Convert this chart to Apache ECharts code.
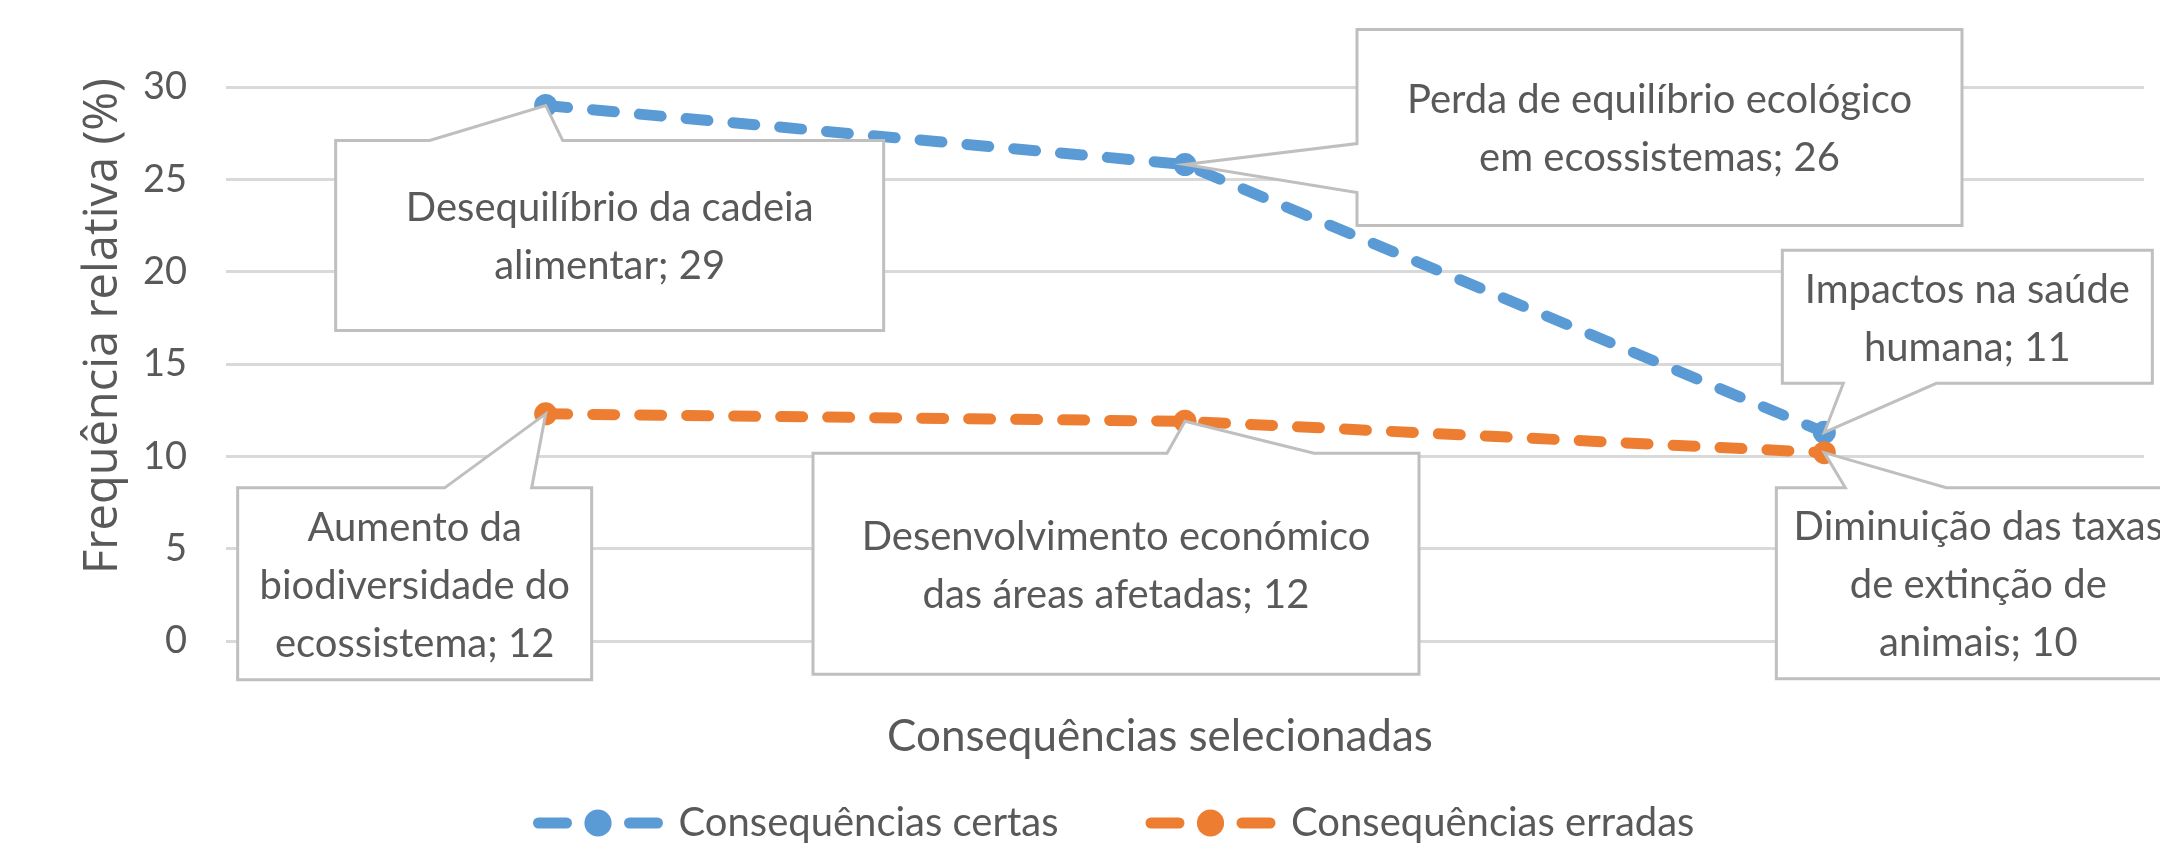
<!DOCTYPE html>
<html>
<head>
<meta charset="utf-8">
<script src="https://cdn.jsdelivr.net/npm/echarts@6/dist/echarts.min.js"></script>
<style>
html,body{margin:0;padding:0;background:#fff;}
#chart{width:2160px;height:847px;}
</style>
</head>
<body>
<div id="chart"></div>
<script>
// ---- data ----
const categories = ['1', '2', '3'];
const seriesNames = ['Consequências certas', 'Consequências erradas'];
const certasValues = [29, 25.8, 11.3];
const erradasValues = [12.3, 11.9, 10.2];
const certasNames = ['Desequilíbrio da cadeia\nalimentar', 'Perda de equilíbrio ecológico\nem ecossistemas', 'Impactos na saúde\nhumana'];
const erradasNames = ['Aumento da\nbiodiversidade do\necossistema', 'Desenvolvimento económico\ndas áreas afetadas', 'Diminuição das taxas\nde extinção de\nanimais'];
const yTicks = [0, 5, 10, 15, 20, 25, 30];
const xTitle = 'Consequências selecionadas';
const yTitle = 'Frequência relativa (%)';

// ---- layout (callout boxes relative to their point, in px) ----
const certasLayout = [
  {side:'top', dx:-210, dy:35, w:548, h:190, a:-116, b:17},
  {side:'left', dx:172, dy:-135, w:605, h:196, a:-21, b:28},
  {side:'bottom', dx:-42, dy:-182, w:370, h:133, a:19, b:112}
];
const erradasLayout = [
  {side:'top', dx:-308, dy:74, w:354, h:192, a:-101, b:-14},
  {side:'top', dx:-372, dy:32, w:606, h:221, a:-18, b:129},
  {side:'top', dx:-48, dy:35, w:404, h:191, a:21, b:122}
];

const TXT = '#595959';
const FONT = 'Lato';

function lineSeries(name, values, color) {
  return {
    name: name,
    type: 'line',
    data: values,
    symbol: 'circle',
    symbolSize: 23,
    z: 3,
    itemStyle: {color: color},
    lineStyle: {color: color, width: 11, type: [22, 25], cap: 'round'},
    emphasis: {disabled: true}
  };
}

function calloutSeries(names, values, layouts) {
  return {
    type: 'custom',
    coordinateSystem: 'cartesian2d',
    z: 10,
    clip: false,
    silent: true,
    data: values.map((v, i) => [i, v]),
    renderItem: function (params, api) {
      const i = params.dataIndex;
      const p = api.coord([api.value(0), api.value(1)]);
      const L = layouts[i];
      const x0 = p[0] + L.dx, y0 = p[1] + L.dy, x1 = x0 + L.w, y1 = y0 + L.h;
      let pts;
      if (L.side === 'top') pts = [[x0, y0], [p[0] + L.a, y0], p, [p[0] + L.b, y0], [x1, y0], [x1, y1], [x0, y1]];
      else if (L.side === 'bottom') pts = [[x0, y0], [x1, y0], [x1, y1], [p[0] + L.b, y1], p, [p[0] + L.a, y1], [x0, y1]];
      else pts = [[x0, y0], [x1, y0], [x1, y1], [x0, y1], [x0, p[1] + L.b], p, [x0, p[1] + L.a]];
      return {
        type: 'group',
        children: [
          {type: 'polygon', shape: {points: pts}, style: {fill: '#ffffff', stroke: '#BFBFBF', lineWidth: 3, lineJoin: 'miter'}},
          {type: 'text', style: {
            text: names[i] + '; ' + Math.round(values[i]),
            x: (x0 + x1) / 2, y: (y0 + y1) / 2 + 2,
            align: 'center', verticalAlign: 'middle',
            fontFamily: FONT, fontSize: 40, lineHeight: 58, fill: TXT
          }}
        ]
      };
    }
  };
}

const chart = echarts.init(document.getElementById('chart'), null, {renderer: 'canvas'});
chart.setOption({
  animation: false,
  backgroundColor: '#ffffff',
  grid: {left: 226, right: 16, top: 87, bottom: 206, containLabel: false},
  xAxis: {
    type: 'category',
    data: categories,
    boundaryGap: true,
    axisLine: {show: false},
    axisTick: {show: false},
    axisLabel: {show: false},
    name: xTitle,
    nameLocation: 'middle',
    nameGap: 96,
    nameTextStyle: {color: TXT, fontFamily: FONT, fontSize: 44, verticalAlign: 'middle', padding: [0, 50, 0, 0]}
  },
  yAxis: {
    type: 'value',
    min: yTicks[0],
    max: yTicks[yTicks.length - 1],
    interval: yTicks[1] - yTicks[0],
    axisLine: {show: false},
    axisTick: {show: false},
    axisLabel: {color: TXT, fontFamily: FONT, fontSize: 38, margin: 39},
    splitLine: {lineStyle: {color: '#D9D9D9', width: 3}}
  },
  legend: {
    data: seriesNames,
    left: 528,
    top: 798,
    itemWidth: 119,
    itemHeight: 34,
    itemGap: 87,
    textStyle: {color: TXT, fontFamily: FONT, fontSize: 40, padding: [0, 0, 0, 16]},
    lineStyle: {width: 11, type: [28, 63], cap: 'round'}
  },
  graphic: [{
    type: 'text',
    x: 104, y: 326,
    rotation: Math.PI / 2,
    style: {text: yTitle, align: 'center', verticalAlign: 'middle', fontFamily: 'Open Sans', fontSize: 47, fill: TXT}
  }],
  series: [
    lineSeries(seriesNames[0], certasValues, '#5B9BD5'),
    lineSeries(seriesNames[1], erradasValues, '#ED7D31'),
    calloutSeries(certasNames, certasValues, certasLayout),
    calloutSeries(erradasNames, erradasValues, erradasLayout)
  ]
});
</script>
</body>
</html>
